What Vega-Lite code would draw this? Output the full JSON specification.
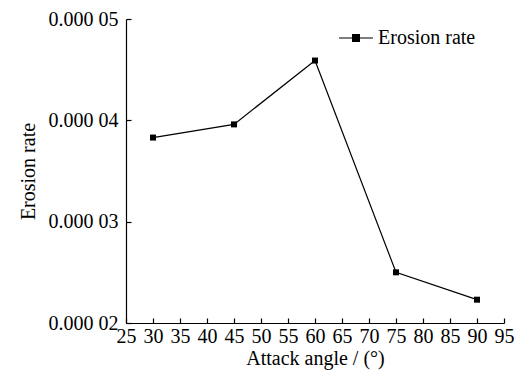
{
  "$schema": "https://vega.github.io/schema/vega-lite/v6.json",
  "width": 378,
  "height": 304,
  "autosize": "none",
  "padding": {"left": 126, "top": 19, "right": 19, "bottom": 51},
  "background": "white",
  "data": {"values": [
    {"angle": 30, "rate": 0.0000383, "series": "Erosion rate"},
    {"angle": 45, "rate": 0.0000396, "series": "Erosion rate"},
    {"angle": 60, "rate": 0.0000459, "series": "Erosion rate"},
    {"angle": 75, "rate": 0.0000250, "series": "Erosion rate"},
    {"angle": 90, "rate": 0.0000223, "series": "Erosion rate"}
  ]},
  "config": {
    "view": {"stroke": null},
    "font": "Liberation Serif",
    "axis": {
      "domainColor": "black", "tickColor": "black", "labelColor": "black", "titleColor": "black",
      "labelFont": "Liberation Serif", "titleFont": "Liberation Serif",
      "labelFontSize": 20, "titleFontSize": 20, "titleFontWeight": "normal",
      "grid": false, "tickSize": -5, "domainWidth": 1.2, "tickWidth": 1.2
    }
  },
  "mark": {"type": "line", "strokeWidth": 1.2, "point": {"filled": true, "shape": "square", "size": 36}},
  "encoding": {
    "x": {"field": "angle", "type": "quantitative",
      "scale": {"domain": [25, 95], "nice": false, "zero": false},
      "axis": {"values": [25,30,35,40,45,50,55,60,65,70,75,80,85,90,95], "title": "Attack angle / (°)", "labelPadding": 8, "titlePadding": 2, "labelFlush": false, "labelFont": "Liberation Serif", "labelFontSize": 20}},
    "y": {"field": "rate", "type": "quantitative",
      "scale": {"domain": [0.00002, 0.00005], "nice": false, "zero": false},
      "axis": {"values": [0.00002, 0.00003, 0.00004, 0.00005], "labelExpr": "replace(format(datum.value, '.5f'), '0.000', '0.000 ')", "title": "Erosion rate", "labelPadding": 13, "titlePadding": 10, "labelFont": "Liberation Serif", "labelFontSize": 20}},
    "color": {"field": "series", "type": "nominal",
      "scale": {"range": ["black"]},
      "legend": {"orient": "none", "legendX": 212, "legendY": 1, "title": null,
        "symbolType": "M-1,0H1M-0.2,-0.2H0.2V0.2H-0.2Z", "symbolSize": 1156, "symbolStrokeWidth": 1.2,
        "symbolFillColor": "black", "symbolStrokeColor": "black",
        "labelFont": "Liberation Serif", "labelFontSize": 20, "labelColor": "black", "labelOffset": 4}}
  }
}
